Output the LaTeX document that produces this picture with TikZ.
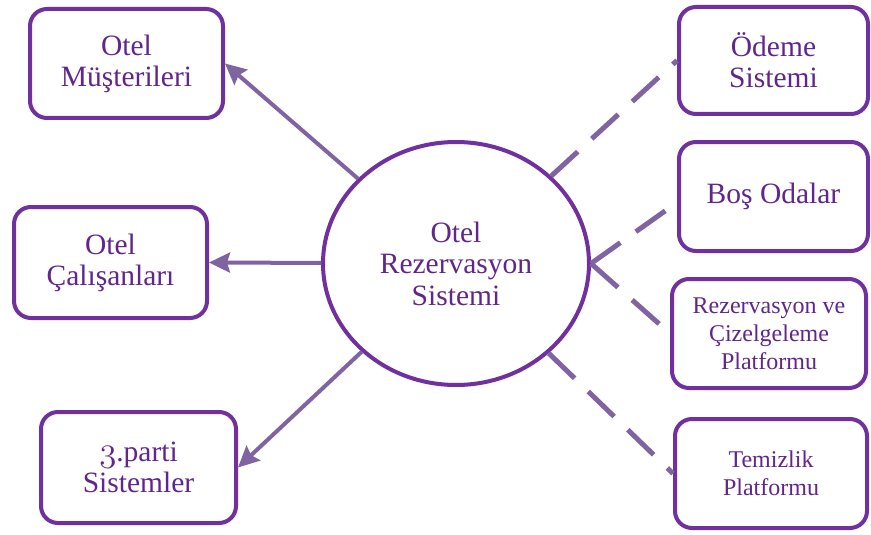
\documentclass[tikz,border=0pt]{standalone}
\usepackage{fontspec}
\setmainfont{Liberation Serif}
\usetikzlibrary{shapes.geometric,arrows.meta}
\definecolor{boxline}{RGB}{112,48,160}
\definecolor{linkline}{RGB}{128,100,162}
\definecolor{labeltext}{RGB}{96,38,140}
% old-style figure three from the Computer Modern math italic font
\newcommand{\oldthree}{\scalebox{1.4}{\usefont{OML}{cmm}{m}{it}3}}
\begin{document}
\begin{tikzpicture}[x=1pt,y=-1pt,
  card/.style={draw=boxline,line width=4pt,rounded corners=17pt,fill=white,
    text=labeltext,align=center,inner sep=0pt,
    font=\fontsize{29.5}{31}\selectfont},
  smallcard/.style={card,font=\fontsize{24}{28}\selectfont},
  hub/.style={ellipse,draw=boxline,line width=4pt,fill=white,text=labeltext,
    align=center,inner sep=0pt,minimum width=266pt,minimum height=243pt,
    font=\fontsize{29.5}{31.5}\selectfont},
  outflow/.style={draw=linkline,line width=4pt,-{Stealth[length=21pt,width=20pt,inset=3pt]}},
  peer/.style={draw=linkline,line width=5pt,dash pattern=on 36pt off 19pt}]
\useasboundingbox (0,0) rectangle (871,535);

% central system
\node[hub] (c) at (456,263.5) {Otel\\Rezervasyon\\Sistemi};

% users and external parties on the left
\node[card,minimum width=193pt,minimum height=109pt] (mus) at (126.5,63.5) {Otel\\Müşterileri};
\node[card,minimum width=193pt,minimum height=111pt] (cal) at (110.5,262.5) {Otel\\Çalışanları};
\node[card,minimum width=195pt,minimum height=111pt] (par) at (138.5,467.5) {\oldthree.parti\\Sistemler};

% connected platforms on the right
\node[card,minimum width=189pt,minimum height=107pt] (ode) at (773.5,60.5) {Ödeme\\Sistemi};
\node[card,minimum width=189pt,minimum height=109pt] (bos) at (773.5,196.5) {Boş Odalar};
\node[smallcard,minimum width=194pt,minimum height=109pt] (rez) at (769,333.5) {Rezervasyon ve\\Çizelgeleme\\Platformu};
\node[smallcard,minimum width=192pt,minimum height=109pt] (tem) at (771,473.5) {Temizlik\\Platformu};

% solid arrows
\draw[outflow] (c) -- (mus.east);
\draw[outflow] (c) -- (cal.east);
\draw[outflow] (c) -- (par.east);

% dashed links
\draw[peer] (c) -- (ode.west);
\draw[peer] (c.east) -- ([yshift=-6pt]bos.west);
\draw[peer] (c.east) -- (rez.west);
\draw[peer] (c) -- (tem.west);
\end{tikzpicture}
\end{document}
